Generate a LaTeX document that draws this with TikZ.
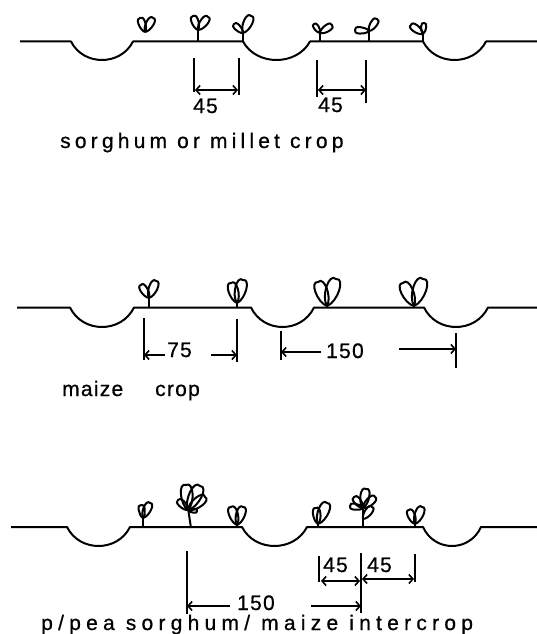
\documentclass[tikz,border=0pt]{standalone}
\usepackage{fontspec}
\usetikzlibrary{arrows.meta}
\newfontfamily\wideletters{Liberation Sans}[LetterSpace=20,FakeBold=0.7]
\newfontfamily\widerletters{Liberation Sans}[LetterSpace=25,FakeBold=0.7]
\newfontfamily\dimletters{Liberation Sans}[LetterSpace=6,FakeBold=0.7]

% one leaf: base x, base y, tip x, tip y, then the drawn outline
\newcommand\leafshape[4]{%
  \pgfmathsetmacro\ldx{#3-#1}\pgfmathsetmacro\ldy{#4-#2}%
  \draw[plantline] (#1,#2)
    .. controls ({#1+.25*\ldx-.31*\ldy},{#2+.25*\ldy+.31*\ldx})
            and ({#1+1.15*\ldx-.31*\ldy},{#2+1.15*\ldy+.31*\ldx}) .. (#3,#4)
    .. controls ({#1+1.15*\ldx+.31*\ldy},{#2+1.15*\ldy-.31*\ldx})
            and ({#1+.25*\ldx+.31*\ldy},{#2+.25*\ldy-.31*\ldx}) .. (#1,#2);}
% seedling with a stem and two leaves
\newcommand\seedling[8]{%
  \draw[plantline] (#1,#2) -- (#3,#4);
  \leafshape{#3}{#4}{#5}{#6}\leafshape{#3}{#4}{#7}{#8}}
% a ridge-and-furrow ground line at height #1, furrow bottoms at #2
\newcommand\groundline[9]{%
  \pgfmathsetmacro\gd{(#2-#1)*4/3}%
  \draw[groundstroke] (#3,#1) -- (#4,#1)
    .. controls ({#4+.2*(#5-#4)},{#1+\gd}) and ({#5-.2*(#5-#4)},{#1+\gd}) .. (#5,#1)
    -- (#6,#1)
    .. controls ({#6+.2*(#7-#6)},{#1+\gd}) and ({#7-.2*(#7-#6)},{#1+\gd}) .. (#7,#1)
    -- (#8,#1)
    .. controls ({#8+.2*(#9-#8)},{#1+\gd}) and ({#9-.2*(#9-#8)},{#1+\gd}) .. (#9,#1)
    -- (537,#1);}

\tikzset{
  plantline/.style={line width=2pt,line join=round},
  groundstroke/.style={line width=2pt,line join=round},
  tickline/.style={line width=1.6pt},
  dimline/.style={line width=1.6pt,-{Straight Barb[length=4pt,width=9pt]}},
  dimboth/.style={line width=1.6pt,{Straight Barb[length=4pt,width=9pt]}-{Straight Barb[length=4pt,width=9pt]}},
  caption/.style={anchor=base west,inner sep=0pt,font=\wideletters\fontsize{21}{21}\selectfont},
  longcaption/.style={anchor=base west,inner sep=0pt,font=\widerletters\fontsize{21}{21}\selectfont},
  dimtext/.style={anchor=base west,inner sep=0pt,font=\dimletters\fontsize{21}{21}\selectfont},
}

\begin{document}
\begin{tikzpicture}[x=1pt,y=-1pt]
\useasboundingbox (0,0) rectangle (537,634);

% sorghum or millet crop
\groundline{41.5}{60}{20}{71}{133}{243}{310}{423}{486}
\leafshape{145}{32}{140}{18}\leafshape{145}{32}{153}{18}
\seedling{198}{42}{198}{30}{193}{16}{208}{17}
\seedling{243}{42}{243}{33}{234}{24}{251}{16}
\seedling{320}{42}{320}{33}{314}{24}{332}{25}
\seedling{369}{41}{369}{31}{355}{30}{377}{19}
\seedling{423}{42}{423}{34}{411}{25}{424}{23}
\coordinate (a1t) at (194,58); \coordinate (a1b) at (194,92);
\coordinate (a2t) at (239,58); \coordinate (a2b) at (239,95);
\coordinate (a1m) at (195,90); \coordinate (a2m) at (238,90);
\draw[tickline] (a1t) -- (a1b); \draw[tickline] (a2t) -- (a2b);
\draw[dimboth] (a1m) -- (a2m);
\coordinate (b1t) at (317,60); \coordinate (b1b) at (317,97);
\coordinate (b2t) at (366,60); \coordinate (b2b) at (366,103);
\coordinate (b1m) at (318,90); \coordinate (b2m) at (366,90);
\draw[tickline] (b1t) -- (b1b); \draw[tickline] (b2t) -- (b2b);
\draw[dimboth] (b1m) -- (b2m);
\node[dimtext] (lab45a) at (193,113) {45};
\node[dimtext] (lab45b) at (318,112) {45};
\node[caption] (capA) at (60,148) {sorghum or millet crop};

% maize crop
\groundline{307.5}{327}{17}{70}{134}{251}{314}{424}{488}
\seedling{149}{307}{149}{298}{141}{285}{156}{281}
\seedling{237}{307}{237}{303}{231}{283}{243}{280}
\seedling{327}{307}{327}{306}{318}{282}{336}{279}
\seedling{414}{307}{414}{306}{403}{283}{423}{279}
\coordinate (c1t) at (144,318); \coordinate (c1b) at (144,360);
\coordinate (c2t) at (237,319); \coordinate (c2b) at (237,362);
\coordinate (c1e) at (165,355); \coordinate (c1m) at (144,355);
\coordinate (c2e) at (211,355); \coordinate (c2m) at (237,355);
\draw[tickline] (c1t) -- (c1b); \draw[tickline] (c2t) -- (c2b);
\draw[dimline] (c1e) -- (c1m); \draw[dimline] (c2e) -- (c2m);
\coordinate (d1t) at (281,331); \coordinate (d1b) at (281,360);
\coordinate (d2t) at (456,333); \coordinate (d2b) at (456,368);
\coordinate (d1e) at (321,352); \coordinate (d1m) at (281,352);
\coordinate (d2e) at (399,349); \coordinate (d2m) at (456,349);
\draw[tickline] (d1t) -- (d1b); \draw[tickline] (d2t) -- (d2b);
\draw[dimline] (d1e) -- (d1m); \draw[dimline] (d2e) -- (d2m);
\node[dimtext] (lab75) at (167,357) {75};
\node[dimtext] (lab150a) at (326,358) {150};
\node[dimtext] (capB1) at (62,396) {maize};
\node[dimtext] (capB2) at (155,396) {crop};

% pigeonpea and sorghum or maize intercrop
\groundline{527}{546}{11}{67}{130}{242}{307}{423}{481}
\seedling{143}{527}{143}{518}{141}{505}{150}{503}
\draw[plantline] (191,528) -- (188,508);
\leafshape{188}{510}{186}{485}\leafshape{188}{510}{200}{486}
\leafshape{188}{510}{205}{497}\leafshape{188}{510}{178}{500}
\leafshape{188}{510}{197}{511}
\seedling{237}{527}{237}{525}{231}{507}{243}{507}
\seedling{318}{527}{318}{524}{316}{508}{327}{503}
\draw[plantline] (363,527) -- (363,505);
\leafshape{363}{508}{366}{489}\leafshape{363}{508}{354}{497}
\leafshape{363}{508}{375}{497}\leafshape{363}{508}{350}{506}
\leafshape{363}{519}{372}{507}
\seedling{415}{527}{415}{524}{409}{510}{422}{507}
\coordinate (e1t) at (187,551); \coordinate (e1b) at (187,614);
\coordinate (e2t) at (361,553); \coordinate (e2b) at (361,613);
\coordinate (e1e) at (230,606); \coordinate (e1m) at (187,606);
\coordinate (e2e) at (311,606); \coordinate (e2m) at (361,606);
\draw[tickline] (e1t) -- (e1b); \draw[tickline] (e2t) -- (e2b);
\draw[dimline] (e1e) -- (e1m); \draw[dimline] (e2e) -- (e2m);
\coordinate (f1t) at (319,556); \coordinate (f1b) at (319,582);
\coordinate (f2t) at (415,554); \coordinate (f2b) at (415,582);
\coordinate (f1m) at (321,581); \coordinate (f2m) at (360,581);
\coordinate (f3m) at (362,579); \coordinate (f4m) at (414,579);
\draw[tickline] (f1t) -- (f1b); \draw[tickline] (f2t) -- (f2b);
\draw[dimboth] (f1m) -- (f2m); \draw[dimboth] (f3m) -- (f4m);
\node[dimtext] (lab45c) at (323,572) {45};
\node[dimtext] (lab45d) at (367,572) {45};
\node[dimtext] (lab150b) at (237,610) {150};
\node[longcaption] (capC) at (41,630) {p/pea sorghum/ maize intercrop};
\end{tikzpicture}
\end{document}
